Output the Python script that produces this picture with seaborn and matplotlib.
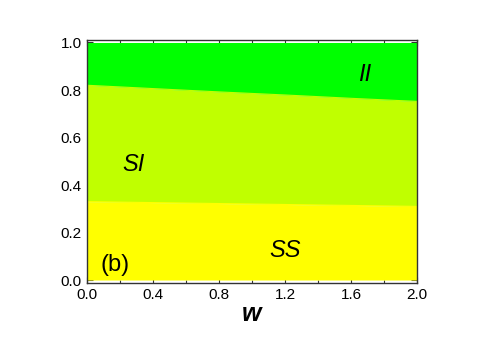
import numpy as np
import pandas as pd
import matplotlib
matplotlib.use("Agg")
import matplotlib.pyplot as plt
import seaborn as sns
from matplotlib.ticker import MultipleLocator

# phase boundaries
w = [0.0, 0.4, 0.8, 1.2, 1.6, 2.0]
ss_si = [0.330, 0.326, 0.322, 0.318, 0.314, 0.310]
si_ii = [0.820, 0.806, 0.792, 0.779, 0.765, 0.752]
top = [1.0, 1.0, 1.0, 1.0, 1.0, 1.0]
bottom = [0.0, 0.0, 0.0, 0.0, 0.0, 0.0]

region_names = ["SS", "SI", "II"]
region_colors = ["#FFFF00", "#C0FF00", "#00FF00"]
label_pos = [(1.2, 0.126), (0.285, 0.487), (1.68, 0.866)]

df = pd.DataFrame({"w": w, "ss_si": ss_si, "si_ii": si_ii})

sns.set_style("ticks")
plt.rcParams["font.family"] = ["Liberation Sans", "DejaVu Sans"]
plt.rcParams["text.color"] = "black"
plt.rcParams["axes.labelcolor"] = "black"

fig = plt.figure(figsize=(4.85, 3.4), dpi=100)
ax = fig.add_axes([0.179, 0.168, 0.681, 0.714])

bounds = [bottom, ss_si, si_ii, top]
for i, (name, col) in enumerate(zip(region_names, region_colors)):
    ax.fill_between(w, bounds[i], bounds[i + 1], color=col, lw=0)
    ax.text(label_pos[i][0], label_pos[i][1], name, style="italic",
            fontsize=17, ha="center", va="center", color="black")

sns.lineplot(data=df, x="w", y="ss_si", color=region_colors[0], lw=0.8, ax=ax)
sns.lineplot(data=df, x="w", y="si_ii", color=region_colors[1], lw=0.8, ax=ax)

ax.text(0.17, 0.063, "(b)", fontsize=17, ha="center", va="center", color="black")

ax.set_xlim(0, 2.0)
ax.set_ylim(-0.012, 1.01)
ax.xaxis.set_major_locator(MultipleLocator(0.4))
ax.xaxis.set_minor_locator(MultipleLocator(0.2))
ax.yaxis.set_major_locator(MultipleLocator(0.2))
ax.yaxis.set_minor_locator(MultipleLocator(0.1))
ax.xaxis.set_major_formatter(matplotlib.ticker.FormatStrFormatter("%.1f"))
ax.yaxis.set_major_formatter(matplotlib.ticker.FormatStrFormatter("%.1f"))
ax.tick_params(which="both", direction="in", top=True, right=True,
               labeltop=False, labelright=False, colors="#333333",
               labelcolor="black", labelsize=11, width=0.8)
ax.tick_params(which="major", length=4)
ax.tick_params(which="minor", length=2)
for s in ax.spines.values():
    s.set_linewidth(1.0)
    s.set_color("#333333")

ax.set_xlabel("w", style="italic", weight="bold", fontsize=18, labelpad=0,
              color="black")
ax.set_ylabel("")

fig.savefig("out.png", dpi=100)
plt.close(fig)
